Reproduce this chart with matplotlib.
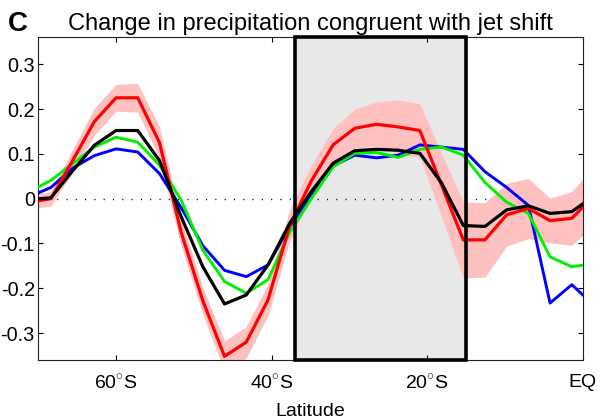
import matplotlib
matplotlib.use("Agg")
import matplotlib.pyplot as plt
import numpy as np
from matplotlib.patches import Rectangle

plt.rcParams['font.family'] = ['Liberation Sans', 'DejaVu Sans']
plt.rcParams['mathtext.fontset'] = 'custom'
plt.rcParams['mathtext.rm'] = 'Liberation Sans'

# ---- data ----
lat = [-71.16, -68.37, -65.58, -62.79, -60.00, -57.21, -54.42, -51.63, -48.84,
       -46.05, -43.25, -40.46, -37.67, -34.88, -32.09, -29.30, -26.51, -23.72,
       -20.93, -18.14, -15.35, -12.56, -9.77, -6.98, -4.19, -1.40, 1.40]

red = [-0.008, 0.000, 0.085, 0.172, 0.225, 0.225, 0.125, -0.075, -0.228,
       -0.352, -0.320, -0.226, -0.060, 0.040, 0.120, 0.157, 0.166, 0.160,
       0.152, 0.030, -0.092, -0.092, -0.036, -0.022, -0.049, -0.044, 0.005]

red_err = [0.015, 0.016, 0.025, 0.030, 0.030, 0.032, 0.035, 0.030, 0.030,
           0.035, 0.035, 0.035, 0.035, 0.035, 0.037, 0.043, 0.050, 0.060,
           0.060, 0.070, 0.085, 0.083, 0.070, 0.067, 0.050, 0.060, 0.065]

black = [-0.002, 0.002, 0.062, 0.119, 0.152, 0.152, 0.085, -0.040, -0.152,
         -0.235, -0.215, -0.148, -0.055, 0.016, 0.079, 0.107, 0.110, 0.108,
         0.101, 0.035, -0.060, -0.062, -0.025, -0.016, -0.033, -0.029, 0.005]

blue = [0.004, 0.025, 0.068, 0.096, 0.111, 0.104, 0.056, -0.020, -0.105,
        -0.160, -0.174, -0.148, -0.062, 0.005, 0.073, 0.097, 0.091, 0.097,
        0.120, 0.115, 0.110, 0.060, 0.025, -0.015, -0.233, -0.192, -0.237]

green = [0.015, 0.041, 0.078, 0.115, 0.137, 0.126, 0.075, -0.003, -0.115,
         -0.185, -0.211, -0.181, -0.075, 0.000, 0.071, 0.101, 0.103, 0.092,
         0.110, 0.115, 0.097, 0.036, -0.008, -0.033, -0.130, -0.152, -0.145]

box_lat = [-37.0, -15.0]

xticks = [-60, -40, -20, 0]
xticklabels = [r'60$^{\circ}$S', r'40$^{\circ}$S', r'20$^{\circ}$S', 'EQ']
yticks = [-0.3, -0.2, -0.1, 0, 0.1, 0.2, 0.3]
yticklabels = ['-0.3', '-0.2', '-0.1', '0', '0.1', '0.2', '0.3']

# ---- figure ----
fig = plt.figure(figsize=(6, 4.2), dpi=100)
ax = fig.add_axes([0.0638, 0.1429, 0.9073, 0.7683])

ylim = (-0.36, 0.36)
ax.set_xlim(-70, 0)
ax.set_ylim(*ylim)

# grey box
ax.add_patch(Rectangle((box_lat[0], ylim[0]), box_lat[1] - box_lat[0],
                       ylim[1] - ylim[0], facecolor='#e8e8e8',
                       edgecolor='none', zorder=0))
# zero line
ax.plot([-70, 0], [0, 0], color='black', lw=1.0,
        linestyle=(0, (0.8, 5.9)), zorder=1)

lat_a = np.array(lat)
red_a = np.array(red)
err_a = np.array(red_err)
ax.fill_between(lat_a, red_a - err_a, red_a + err_a, color='#ffc0c0',
                linewidth=0, zorder=2)

ax.plot(lat, blue, color='#0000ff', lw=2.1, zorder=3)
ax.plot(lat, green, color='#00f000', lw=2.1, zorder=3)
ax.plot(lat, red, color='#ff0000', lw=2.3, zorder=4)
ax.plot(lat, black, color='black', lw=2.3, zorder=5)

# box edge
ax.add_patch(Rectangle((box_lat[0], ylim[0]), box_lat[1] - box_lat[0],
                       ylim[1] - ylim[0], facecolor='none',
                       edgecolor='black', lw=2.6, zorder=6, clip_on=False))

ax.set_xticks(xticks)
ax.set_xticklabels(xticklabels)
ax.set_yticks(yticks)
ax.set_yticklabels(yticklabels)
ax.tick_params(axis='both', direction='in', top=True, right=True,
               length=3.5, width=0.8)
ax.tick_params(axis='x', pad=10, labelsize=14)
ax.tick_params(axis='y', pad=2.5, labelsize=14.3)
for s in ax.spines.values():
    s.set_linewidth(0.8)
    s.set_color('#222222')

ax.set_title('Change in precipitation congruent with jet shift',
             fontsize=17, pad=5)
ax.set_xlabel('Latitude', fontsize=14)
ax.xaxis.set_label_coords(0.5, -0.133)
ax.xaxis.label.set_va('top')

fig.text(0.013, 1 - 31 / 420, 'C', fontsize=20, fontweight='bold',
         ha='left', va='baseline')

fig.savefig('out.png', dpi=100)
